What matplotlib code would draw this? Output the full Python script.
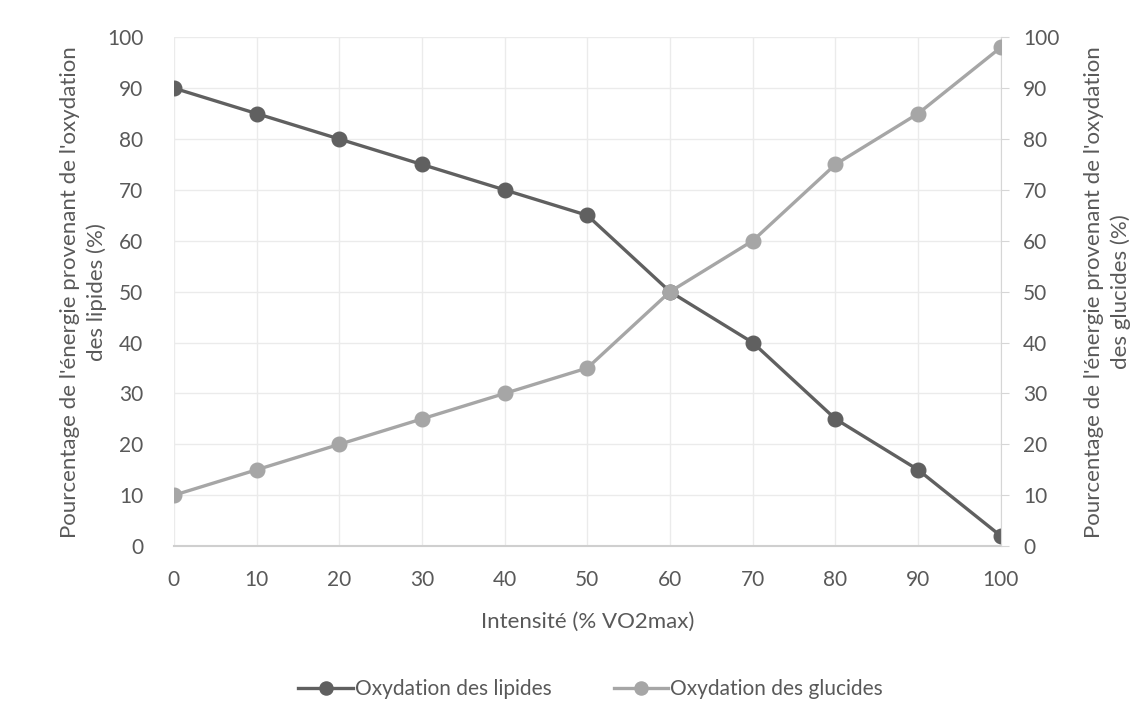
import matplotlib.pyplot as plt

plt.rcParams['font.family'] = ['Lato', 'DejaVu Sans']

# intensity (% VO2max) and share of energy from each substrate
intensite = [0, 10, 20, 30, 40, 50, 60, 70, 80, 90, 100]
lipides = [90, 85, 80, 75, 70, 65, 50, 40, 25, 15, 2]
glucides = [10, 15, 20, 25, 30, 35, 50, 60, 75, 85, 98]
yticks = list(range(0, 101, 10))

TXT = '#595959'
C_LIP = '#606060'
C_GLU = '#a6a6a6'

fig = plt.figure(figsize=(11.36, 7.02), dpi=100)
ax = fig.add_axes([0.153, 0.222, 0.728, 0.725])
ax2 = ax.twinx()

l1, = ax.plot(intensite, lipides, color=C_LIP, lw=2.4, marker='o', ms=10.5,
              label='Oxydation des lipides', zorder=3)
l2, = ax2.plot(intensite, glucides, color=C_GLU, lw=2.4, marker='o', ms=10.5,
               label='Oxydation des glucides', zorder=3)

for a in (ax, ax2):
    a.set_ylim(0, 100)
    a.set_yticks(yticks)
    a.set_xlim(0, 100)
    for s in a.spines.values():
        s.set_visible(False)
ax.set_xticks(intensite)
ax.grid(True, color='#ebebeb', lw=1)
ax.set_axisbelow(True)
ax.spines['bottom'].set_visible(True)
ax.spines['bottom'].set_color('#cfcfcf')
ax.spines['bottom'].set_linewidth(1.5)
ax2.spines['right'].set_visible(True)
ax2.spines['right'].set_color('#d6d6d6')

ax.tick_params(axis='both', length=0, labelsize=15, labelcolor=TXT)
ax.tick_params(axis='x', pad=17)
ax.tick_params(axis='y', pad=22)
ax2.tick_params(axis='y', length=6, color='#d6d6d6', labelsize=15,
                labelcolor=TXT, pad=10)

ax.set_xlabel('Intensité (% VO2max)', fontsize=16, color=TXT, labelpad=16)
ax.set_ylabel("Pourcentage de l'énergie provenant de l'oxydation\ndes lipides (%)",
              fontsize=16, color=TXT, labelpad=0, linespacing=1.35)
ax2.set_ylabel("Pourcentage de l'énergie provenant de l'oxydation\ndes glucides (%)",
               fontsize=16, color=TXT, rotation=90, labelpad=18, linespacing=1.35)

fig.legend(handles=[l1, l2], loc='center', bbox_to_anchor=(0.52, 0.018),
           ncol=2, frameon=False, fontsize=15, labelcolor=TXT,
           handlelength=2.6, handletextpad=0.1, columnspacing=3.0,
           markerscale=0.9)

fig.savefig('out.png', dpi=100, facecolor='white')
